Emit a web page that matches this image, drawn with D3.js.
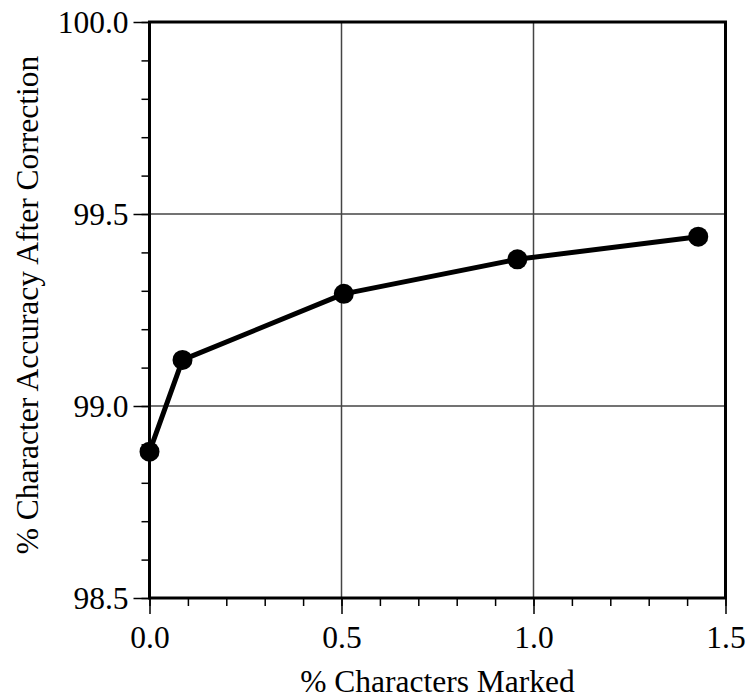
<!DOCTYPE html>
<html>
<head>
<meta charset="utf-8">
<script src="https://cdn.jsdelivr.net/npm/d3@7"></script>
<style>
  body { margin: 0; background: #fff; }
  svg { display: block; }
</style>
</head>
<body>
<div id="chart"></div>
<script>
// data
const marked = [0.0, 0.086, 0.506, 0.958, 1.429];      // % characters marked
const accuracy = [98.881, 99.12, 99.292, 99.382, 99.441]; // % accuracy after correction

const xMajor = [0.0, 0.5, 1.0, 1.5];
const yMajor = [98.5, 99.0, 99.5, 100.0];
const xMinor = d3.range(0, 1.51, 0.1);
const yMinor = d3.range(98.5, 100.01, 0.1);

const FONT = "'Liberation Serif', 'Times New Roman', Times, serif";

const W = 749, H = 700;
const margin = {top: 22, left: 149.5},
    width = 576,
    height = 576;

const svg = d3.select("#chart").append("svg")
    .attr("width", W)
    .attr("height", H);

const x = d3.scaleLinear().domain([0, 1.5]).range([margin.left, margin.left + width]);
const y = d3.scaleLinear().domain([98.5, 100]).range([margin.top + height, margin.top]);

// grid lines
const grid = svg.append("g").attr("stroke", "#444").attr("stroke-width", 1.5);
grid.selectAll("line.gx")
    .data(xMajor.slice(1, -1))
    .join("line")
    .attr("x1", d => x(d)).attr("x2", d => x(d))
    .attr("y1", y(98.5)).attr("y2", y(100));
grid.selectAll("line.gy")
    .data(yMajor.slice(1, -1))
    .join("line")
    .attr("x1", x(0)).attr("x2", x(1.5))
    .attr("y1", d => y(d)).attr("y2", d => y(d));

// minor ticks
const xAxisMinor = d3.axisBottom(x).tickValues(xMinor).tickSize(8).tickFormat("");
const yAxisMinor = d3.axisLeft(y).tickValues(yMinor).tickSize(8).tickFormat("");
// major ticks with labels
const xAxis = d3.axisBottom(x).tickValues(xMajor).tickSize(16).tickPadding(12).tickFormat(d3.format(".1f"));
const yAxis = d3.axisLeft(y).tickValues(yMajor).tickSize(16).tickPadding(5).tickFormat(d3.format(".1f"));

const bottom = margin.top + height;
[xAxisMinor, xAxis].forEach(ax => {
    svg.append("g").attr("transform", `translate(0,${bottom})`).call(ax)
        .call(g => g.select(".domain").remove());
});
[yAxisMinor, yAxis].forEach(ax => {
    svg.append("g").attr("transform", `translate(${margin.left},0)`).call(ax)
        .call(g => g.select(".domain").remove());
});
svg.selectAll(".tick line").attr("stroke", "#000").attr("stroke-width", 1.5);
svg.selectAll(".tick text")
    .style("font-family", FONT)
    .style("font-size", "31.5px")
    .attr("fill", "#000");

// frame
svg.append("rect")
    .attr("x", x(0)).attr("y", y(100))
    .attr("width", x(1.5) - x(0)).attr("height", y(98.5) - y(100))
    .attr("fill", "none")
    .attr("stroke", "#000")
    .attr("stroke-width", 3);

// data line
const pts = marked.map((m, i) => [m, accuracy[i]]);
svg.append("path")
    .datum(pts)
    .attr("fill", "none")
    .attr("stroke", "#000")
    .attr("stroke-width", 5)
    .attr("stroke-linejoin", "round")
    .attr("d", d3.line().x(d => x(d[0])).y(d => y(d[1])));

svg.selectAll("circle.pt")
    .data(pts)
    .join("circle")
    .attr("class", "pt")
    .attr("cx", d => x(d[0]))
    .attr("cy", d => y(d[1]))
    .attr("r", 10)
    .attr("fill", "#000");

// axis titles
svg.append("text")
    .attr("x", x(0.75))
    .attr("y", 692)
    .attr("text-anchor", "middle")
    .style("font-family", FONT)
    .style("font-size", "31.5px")
    .text("% Characters Marked");

svg.append("text")
    .attr("transform", `translate(38,${y(99.25) - 5}) rotate(-90)`)
    .attr("text-anchor", "middle")
    .style("font-family", FONT)
    .style("font-size", "31.5px")
    .text("% Character Accuracy After Correction");
</script>
</body>
</html>
